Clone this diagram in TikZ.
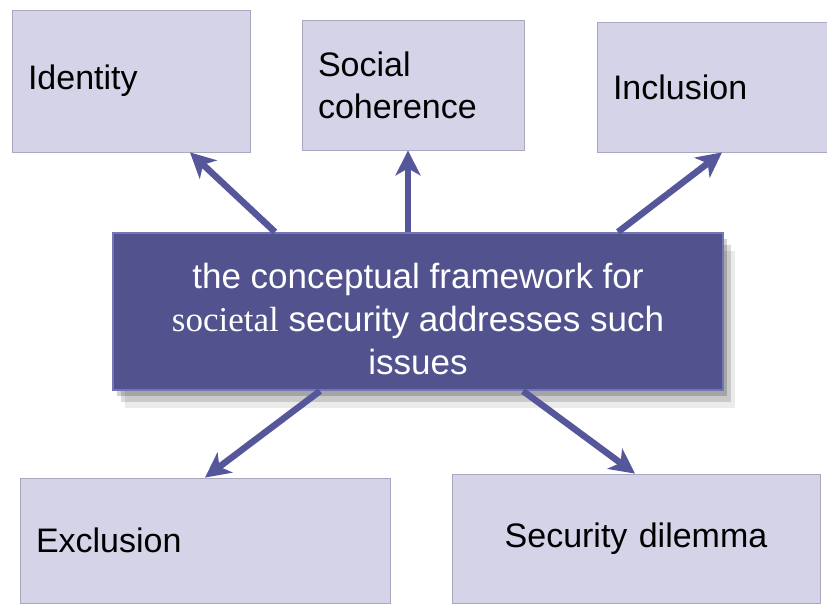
\documentclass[tikz,border=0pt]{standalone}
\usepackage{fontspec}
\setmainfont{Liberation Sans}
\newfontfamily\serifword{Liberation Serif}
\usepackage{xcolor}
\usetikzlibrary{arrows.meta,shadows}
\definecolor{boxfill}{HTML}{D4D3E7}
\definecolor{boxline}{HTML}{A8A8BE}
\definecolor{corefill}{HTML}{52528E}
\definecolor{coreedge}{HTML}{7474B8}
\definecolor{linkcol}{HTML}{55579A}

\begin{document}
\begin{tikzpicture}[
		x=1pt, y=-1pt,
		issue/.style={draw=boxline, fill=boxfill, line width=0.8pt, inner xsep=16pt,
			align=left, font=\fontsize{34}{42}\selectfont},
		core/.style={draw=coreedge, fill=corefill, line width=2pt, text=white, align=center,
			font=\fontsize{35}{43}\selectfont,
			drop shadow={shadow xshift=4pt, shadow yshift=-6pt, opacity=0.18, fill=black},
			drop shadow={shadow xshift=8pt, shadow yshift=-12pt, opacity=0.14, fill=black},
			drop shadow={shadow xshift=12pt, shadow yshift=-18pt, opacity=0.08, fill=black}},
		link/.style={draw=linkcol, line width=6.5pt, -{Stealth[length=25pt, width=25pt, inset=7pt]}},
	]
	\useasboundingbox (0,0) rectangle (827,603);
	% outer boxes
	\node[issue, minimum width=238pt, minimum height=142pt, text width=206pt] (identity) at (131,81) {Identity};
	\node[issue, minimum width=222pt, minimum height=130pt, text width=190pt] (social) at (413,85) {Social\\coherence};
	\node[issue, minimum width=230pt, minimum height=130pt, text width=198pt] (inclusion) at (712,87) {Inclusion};
	\node[issue, minimum width=370pt, minimum height=125pt, text width=338pt] (exclusion) at (205,540.5) {Exclusion};
	\node[issue, minimum width=368pt, minimum height=129pt, text width=336pt, align=center] (dilemma) at (636,538.5) {Security dilemma};
	% central box
	\node[core, minimum width=610pt, minimum height=157pt] (frame) at (418,311.5)
		{\rule{0pt}{40pt}the conceptual framework for\\{\serifword societal} security addresses such\\issues};
	% arrows
	\draw[link] ([xshift=-143pt]frame.north) -- ([xshift=59pt]identity.south);
	\draw[link] ([xshift=-10pt]frame.north) -- ([xshift=-5pt]social.south);
	\draw[link] ([xshift=200pt]frame.north) -- ([xshift=10pt]inclusion.south);
	\draw[link] ([xshift=-98pt]frame.south) -- (exclusion.north);
	\draw[link] ([xshift=105pt]frame.south) -- ([xshift=-1pt]dilemma.north);
\end{tikzpicture}
\end{document}
